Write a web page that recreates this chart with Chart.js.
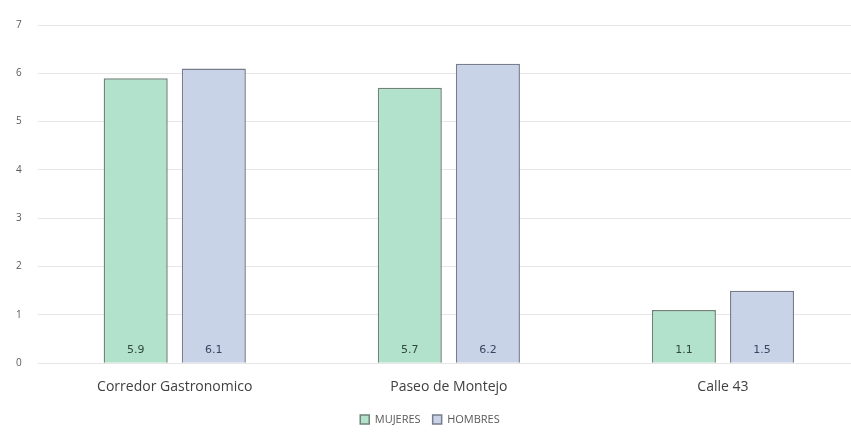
<!DOCTYPE html>
<html>
<head>
<meta charset="utf-8">
<script src="https://cdn.jsdelivr.net/npm/chart.js@4"></script>
<style>
  html, body { margin: 0; padding: 0; background: #fff; overflow: hidden; }
  #wrap { width: 860px; height: 436px; }
</style>
</head>
<body>
<div id="wrap"><canvas id="chart"></canvas></div>
<script>
const categories = ['Corredor Gastronomico', 'Paseo de Montejo', 'Calle 43'];
const mujeres = [5.9, 5.7, 1.1];
const hombres = [6.1, 6.2, 1.5];
const yTicks = [0, 1, 2, 3, 4, 5, 6, 7];

// value labels drawn inside the bars, near the base
const barLabels = {
  id: 'barLabels',
  afterDatasetsDraw(chart) {
    const ctx = chart.ctx;
    ctx.save();
    ctx.font = '11px "DejaVu Sans", sans-serif';
    ctx.textAlign = 'center';
    ctx.textBaseline = 'middle';
    chart.data.datasets.forEach((ds, i) => {
      chart.getDatasetMeta(i).data.forEach((bar, j) => {
        ctx.fillStyle = ds.labelColor;
        ctx.fillText(ds.data[j].toFixed(1), bar.x, bar.base - 13);
      });
    });
    ctx.restore();
  }
};

Chart.defaults.font.family = '"Open Sans", sans-serif';
Chart.defaults.color = '#595959';

const ctx = document.getElementById('chart').getContext('2d');
const chart = new Chart(ctx, {
  type: 'bar',
  data: {
    labels: categories,
    datasets: [{
      label: 'MUJERES',
      data: mujeres,
      backgroundColor: 'rgb(178, 226, 203)',
      borderColor: '#6e8478',
      borderWidth: 1.5,
      labelColor: '#2f4a3c'
    }, {
      label: 'HOMBRES',
      data: hombres,
      backgroundColor: 'rgb(201, 211, 232)',
      borderColor: '#777d8c',
      borderWidth: 1.5,
      labelColor: '#3a4460'
    }]
  },
  options: {
    responsive: true,
    maintainAspectRatio: false,
    animation: false,
    layout: { padding: { top: 25, right: 0, left: 0, bottom: 1 } },
    datasets: {
      bar: { categoryPercentage: 0.57, barPercentage: 0.82 }
    },
    scales: {
      x: {
        grid: { display: false },
        border: { display: false },
        ticks: { font: { size: 14 }, color: '#404040', padding: 7 }
      },
      y: {
        min: 0,
        max: 7,
        afterBuildTicks: axis => { axis.ticks = yTicks.map(v => ({ value: v })); },
        grid: { color: '#e6e6e6', lineWidth: 1, drawTicks: false },
        border: { display: false },
        ticks: { font: { size: 10 }, color: '#595959', padding: 16 }
      }
    },
    plugins: {
      legend: {
        position: 'bottom',
        labels: {
          boxWidth: 9,
          boxHeight: 9,
          font: { size: 11 },
          color: '#595959',
          padding: 12
        }
      },
      tooltip: { enabled: false }
    }
  },
  plugins: [barLabels]
});
</script>
</body>
</html>
